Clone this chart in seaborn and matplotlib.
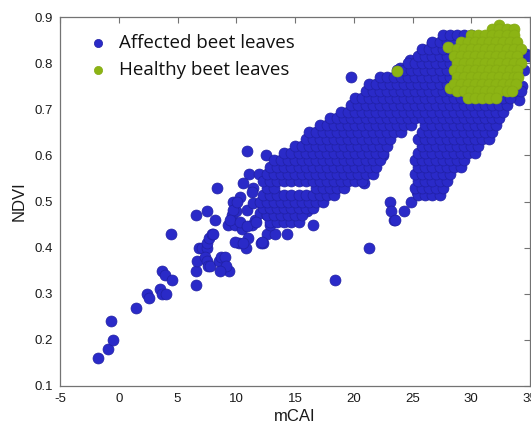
import matplotlib
matplotlib.use("Agg")
import matplotlib.pyplot as plt
import pandas as pd
import seaborn as sns

# ---------------- data ----------------
# scattered affected points (mCAI, NDVI)
affected_sparse = [
    (-1.8, 0.16), (-0.95, 0.18), (-0.7, 0.24), (-0.45, 0.20), (1.5, 0.27),
    (2.4, 0.30), (2.6, 0.29), (3.5, 0.31), (3.7, 0.30), (4.0, 0.30),
    (3.7, 0.35), (3.9, 0.34), (4.5, 0.33), (4.45, 0.43),
    (6.55, 0.32), (6.6, 0.35), (6.7, 0.37), (6.8, 0.40), (7.1, 0.40), (7.5, 0.40),
    (7.3, 0.38), (7.5, 0.37), (7.6, 0.36), (7.8, 0.36), (7.5, 0.41), (7.7, 0.42),
    (7.9, 0.43), (8.0, 0.43), (8.2, 0.46), (8.5, 0.37), (8.7, 0.38), (9.0, 0.38),
    (9.4, 0.35), (9.1, 0.36), (8.6, 0.35), (6.6, 0.47), (7.5, 0.48), (8.4, 0.53),
    (9.3, 0.45), (9.6, 0.47), (9.9, 0.45), (10.2, 0.41), (10.5, 0.44), (10.8, 0.40),
    (11.0, 0.42), (11.3, 0.45), (11.6, 0.46), (12.3, 0.41), (12.1, 0.41),
    (12.6, 0.43), (13.3, 0.43), (12.9, 0.45), (14.3, 0.47), (14.3, 0.43),
    (16.5, 0.45), (16.0, 0.48), (23.4, 0.46), (21.3, 0.40), (18.4, 0.33),
    (10.9, 0.61), (12.5, 0.60), (11.1, 0.56), (11.9, 0.56), (10.6, 0.54),
    (11.4, 0.53), (11.3, 0.52), (9.7, 0.50), (10.3, 0.51), (10.0, 0.48),
    (9.7, 0.482), (9.45, 0.46), (10.1, 0.50), (10.9, 0.482), (11.4, 0.497),
    (12.0, 0.475), (12.6, 0.488), (10.3, 0.456), (10.9, 0.447), (11.7, 0.456),
    (9.9, 0.412), (10.6, 0.41), (12.2, 0.412), (12.6, 0.47),
    (23.1, 0.50), (23.2, 0.48), (23.5, 0.46), (24.3, 0.48), (24.9, 0.50),
    (25.4, 0.52), (26.5, 0.52), (27.1, 0.52), (27.5, 0.53), (27.5, 0.55),
    (20.9, 0.54), (20.3, 0.55), (22.4, 0.60), (22.5, 0.60),
    (19.8, 0.77), (27.1, 0.67), (23.9, 0.79), (24.8, 0.807), (25.9, 0.828),
    (26.7, 0.844), (34.7, 0.82), (34.5, 0.785), (34.3, 0.75), (34.1, 0.72),
    (33.0, 0.727),
]

# dense affected band: one row per NDVI level, listing the mCAI positions
affected_ndvi_levels = [
    0.455, 0.47, 0.485, 0.50, 0.515, 0.53, 0.545, 0.56, 0.575, 0.59,
    0.605, 0.62, 0.635, 0.65, 0.665, 0.68, 0.695, 0.71, 0.725, 0.74,
    0.755, 0.77, 0.785, 0.80, 0.815, 0.83, 0.845, 0.86,
]
affected_mcai_rows = [
    [12.9, 13.5, 14.1, 14.7, 15.3],
    [12.6, 13.2, 13.8, 14.4, 15.0, 15.6],
    [12.3, 12.9, 13.5, 14.1, 14.7, 15.3, 15.9, 16.5],
    [12.0, 12.6, 13.2, 13.8, 14.4, 15.0, 15.6, 16.2, 16.8, 17.4],
    [12.3, 12.9, 13.5, 14.1, 14.7, 15.3, 15.9, 16.5, 17.1, 17.7, 18.3,
     25.5, 26.1, 26.7, 27.3],
    [12.6, 13.2, 16.8, 17.4, 18.0, 18.6, 19.2,
     25.2, 25.8, 26.4, 27.0, 27.6],
    [12.3, 12.9, 13.5, 14.1, 14.7, 15.3, 15.9, 16.5, 17.1, 17.7, 18.3, 18.9,
     19.5, 20.1, 20.7, 25.5, 26.1, 26.7, 27.3, 27.9],
    [12.6, 13.2, 13.8, 14.4, 15.0, 15.6, 16.2, 16.8, 17.4, 18.0, 18.6, 19.2,
     19.8, 20.4, 21.0, 21.6, 25.2, 25.8, 26.4, 27.0, 27.6, 28.2],
    [12.9, 13.5, 14.1, 14.7, 15.3, 15.9, 16.5, 17.1, 17.7, 18.3, 18.9, 19.5,
     20.1, 20.7, 21.3, 21.9, 25.5, 26.1, 26.7, 27.3, 27.9, 28.5, 29.1],
    [13.2, 13.8, 14.4, 15.0, 15.6, 16.2, 16.8, 17.4, 18.0, 18.6, 19.2, 19.8,
     20.4, 21.0, 21.6, 22.2, 25.2, 25.8, 26.4, 27.0, 27.6, 28.2, 28.8, 29.4],
    [14.1, 14.7, 15.3, 15.9, 16.5, 17.1, 17.7, 18.3, 18.9, 19.5, 20.1, 20.7,
     21.3, 21.9, 22.5, 25.5, 26.1, 26.7, 27.3, 27.9, 28.5, 29.1, 29.7, 30.3],
    [15.0, 15.6, 16.2, 16.8, 17.4, 18.0, 18.6, 19.2, 19.8, 20.4, 21.0, 21.6,
     22.2, 22.8, 25.8, 26.4, 27.0, 27.6, 28.2, 28.8, 29.4, 30.0, 30.6],
    [15.9, 16.5, 17.1, 17.7, 18.3, 18.9, 19.5, 20.1, 20.7, 21.3, 21.9, 22.5,
     23.1, 25.5, 26.1, 26.7, 27.3, 27.9, 28.5, 29.1, 29.7, 30.3, 30.9, 31.5],
    [16.2, 16.8, 17.4, 18.0, 18.6, 19.2, 19.8, 20.4, 21.0, 21.6, 22.2, 22.8,
     23.4, 24.0, 25.8, 26.4, 27.0, 27.6, 28.2, 28.8, 29.4, 30.0, 30.6, 31.2,
     31.8],
    [17.1, 17.7, 18.3, 18.9, 19.5, 20.1, 20.7, 21.3, 21.9, 22.5, 23.1, 23.7,
     24.3, 24.9, 26.1, 26.7, 27.3, 27.9, 28.5, 29.1, 29.7, 30.3, 30.9, 31.5,
     32.1],
    [18.0, 18.6, 19.2, 19.8, 20.4, 21.0, 21.6, 22.2, 22.8, 23.4, 24.0, 24.6,
     25.2, 25.8, 26.4, 27.0, 27.6, 28.2, 28.8, 29.4, 30.0, 30.6, 31.2, 31.8,
     32.4],
    [18.9, 19.5, 20.1, 20.7, 21.3, 21.9, 22.5, 23.1, 23.7, 24.3, 24.9, 25.5,
     26.1, 26.7, 27.3, 27.9, 28.5, 29.1, 29.7, 30.3, 30.9, 31.5, 32.1, 32.7],
    [19.8, 20.4, 21.0, 21.6, 22.2, 22.8, 23.4, 24.0, 24.6, 25.2, 25.8, 26.4,
     27.0, 27.6, 28.2, 28.8, 29.4, 30.0, 30.6, 31.2, 31.8, 32.4, 33.0],
    [20.1, 20.7, 21.3, 21.9, 22.5, 23.1, 23.7, 24.3, 24.9, 25.5, 26.1, 26.7,
     27.3, 27.9, 28.5, 29.1, 29.7, 30.3, 30.9, 31.5, 32.1, 32.7, 33.3],
    [21.0, 21.6, 22.2, 22.8, 23.4, 24.0, 24.6, 25.2, 25.8, 26.4, 27.0, 27.6,
     28.2, 28.8, 29.4, 33.6, 34.2],
    [21.3, 21.9, 22.5, 23.1, 23.7, 24.3, 24.9, 25.5, 26.1, 26.7, 27.3, 27.9,
     28.5, 29.1],
    [22.2, 22.8, 23.4, 24.0, 24.6, 25.2, 25.8, 26.4, 27.0, 27.6, 28.2, 28.8],
    [23.7, 24.3, 24.9, 25.5, 26.1, 26.7, 27.3, 27.9, 28.5],
    [24.6, 25.2, 25.8, 26.4, 27.0, 27.6, 28.2, 28.8],
    [25.5, 26.1, 26.7, 27.3, 27.9, 28.5, 34.5, 34.9],
    [25.8, 26.4, 27.0, 27.6, 28.2, 28.8],
    [26.7, 27.3, 27.9, 28.5],
    [27.6, 28.2, 28.8, 29.4, 30.0],
]

# healthy cloud: one row per NDVI level, listing the mCAI positions
healthy_ndvi_levels = [
    0.875, 0.86, 0.845, 0.83, 0.815, 0.80, 0.785, 0.77, 0.755, 0.74, 0.725,
]
healthy_mcai_rows = [
    [31.8, 32.4, 33.0, 33.6],
    [30.0, 30.6, 31.2, 31.8, 32.4, 33.0, 33.6],
    [29.1, 29.7, 30.3, 30.9, 31.5, 32.1, 32.7, 33.3, 33.9],
    [28.8, 29.4, 30.0, 30.6, 31.2, 31.8, 32.4, 33.0, 33.6, 34.2],
    [28.5, 29.1, 29.7, 30.3, 30.9, 31.5, 32.1, 32.7, 33.3, 33.9],
    [28.8, 29.4, 30.0, 30.6, 31.2, 31.8, 32.4, 33.0, 33.6, 34.2],
    [28.5, 29.1, 29.7, 30.3, 30.9, 31.5, 32.1, 32.7, 33.3, 33.9],
    [28.8, 29.4, 30.0, 30.6, 31.2, 31.8, 32.4, 33.0, 33.6, 34.0],
    [28.5, 29.1, 29.7, 30.3, 30.9, 31.5, 32.1, 32.7, 33.3, 33.8],
    [28.8, 29.4, 30.0, 30.6, 31.2, 31.8, 32.4, 33.0, 33.5],
    [29.7, 30.3, 30.9, 31.5, 32.1],
]
healthy_sparse = [
    (23.7, 0.783), (28.0, 0.835), (28.2, 0.745), (32.4, 0.882), (33.5, 0.872),
]

x_ticks = [-5, 0, 5, 10, 15, 20, 25, 30, 35]
y_ticks = [0.1, 0.2, 0.3, 0.4, 0.5, 0.6, 0.7, 0.8, 0.9]
labels = ["Affected beet leaves", "Healthy beet leaves"]

# ---------------- build tables ----------------
def table(sparse, levels, rows, name):
    recs = [(x, y) for x, y in sparse]
    for y, xs in zip(levels, rows):
        recs += [(x, y) for x in xs]
    df = pd.DataFrame(recs, columns=["mCAI", "NDVI"])
    df["group"] = name
    return df

aff = table(affected_sparse, affected_ndvi_levels, affected_mcai_rows, labels[0])
hea = table(healthy_sparse, healthy_ndvi_levels, healthy_mcai_rows, labels[1])

# ---------------- plot ----------------
sns.set_style("white")
plt.rcParams["font.family"] = ["Liberation Sans", "DejaVu Sans"]

fig = plt.figure(figsize=(5.31, 4.29), dpi=100)
ax = fig.add_axes([60 / 531, 43 / 429, 470 / 531, 369 / 429])

sns.scatterplot(data=aff, x="mCAI", y="NDVI", color="#2a2ac8", s=62,
                edgecolor="#2020a4", linewidth=0.5, label=labels[0], ax=ax)
sns.scatterplot(data=hea, x="mCAI", y="NDVI", color="#8cb414", s=62,
                edgecolor="#84aa12", linewidth=0.5, label=labels[1], ax=ax)

ax.set_xlim(-5, 35)
ax.set_ylim(0.1, 0.9)
ax.set_xticks(x_ticks)
ax.set_xticklabels([str(t) for t in x_ticks])
ax.set_yticks(y_ticks)
ax.set_yticklabels([f"{t:.1f}" for t in y_ticks])
ax.tick_params(direction="in", length=4, width=0.8, color="0.45",
               top=True, right=True, labelsize=9.5, pad=5, labelcolor="#1a1a1a")
for sp in ax.spines.values():
    sp.set_color("0.45")
    sp.set_linewidth(0.9)

ax.set_xlabel("mCAI", fontsize=12, color="#1a1a1a", labelpad=3)
ax.set_ylabel("NDVI", fontsize=12, color="#1a1a1a", labelpad=6)

leg = ax.legend(loc="upper left", bbox_to_anchor=(0.016, 0.985), frameon=False,
                prop={"family": "Open Sans", "size": 13.5}, handletextpad=0.15,
                labelspacing=0.5, markerscale=0.75, borderaxespad=0.2)
for t in leg.get_texts():
    t.set_color("#111111")

fig.savefig("out.png", dpi=100)
